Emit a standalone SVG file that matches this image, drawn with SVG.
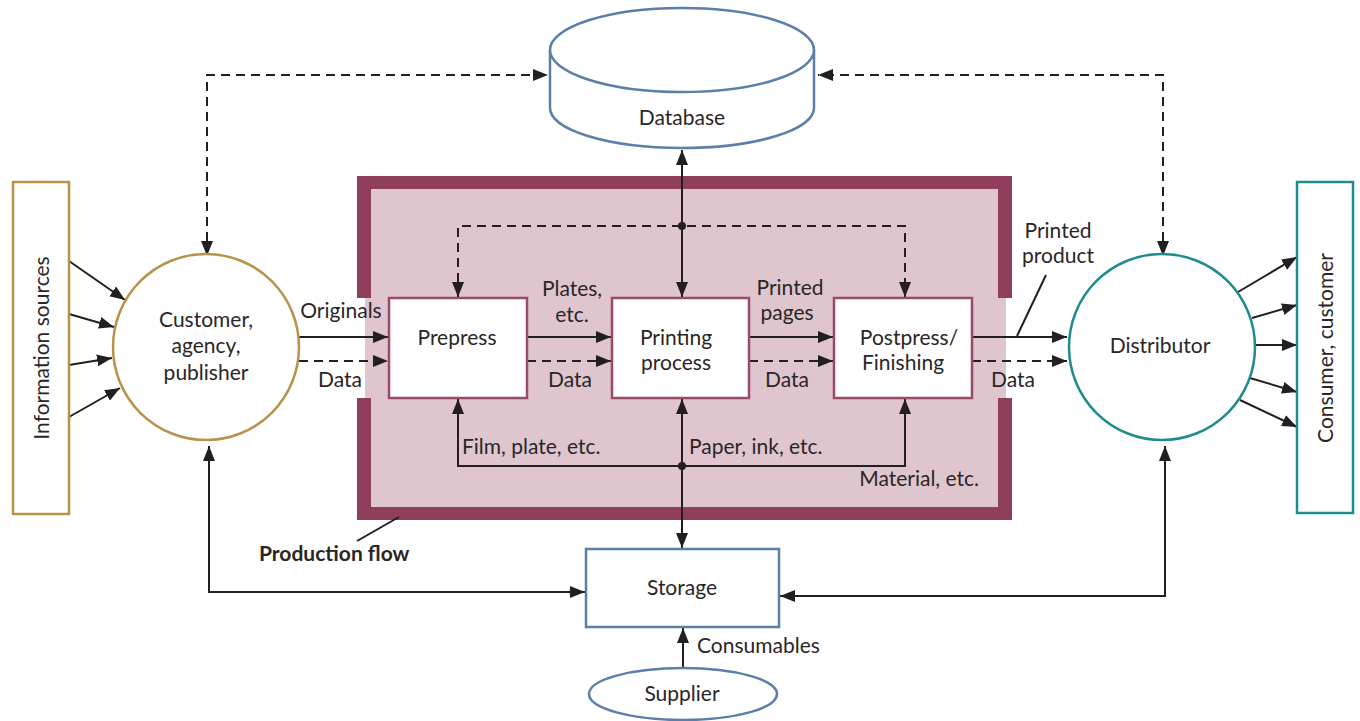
<svg xmlns="http://www.w3.org/2000/svg" width="1360" height="721" viewBox="0 0 1360 721">
<style>
text{font-family:Lato,"Noto Sans","Liberation Sans",sans-serif;font-size:21px;fill:#2a2627}
.c{text-anchor:middle}
.ln{fill:none;stroke:#231f20;stroke-width:2}
.ds{fill:none;stroke:#231f20;stroke-width:2;stroke-dasharray:9 6}
.pb{fill:#fff;stroke:#9b4a66;stroke-width:2.5}
</style>
<defs>
<marker id="a" markerUnits="userSpaceOnUse" markerWidth="16" markerHeight="12" refX="15" refY="6" orient="auto-start-reverse"><path d="M0,0 L15,6 L0,12 z" fill="#231f20"/></marker>
</defs>
<rect width="1360" height="721" fill="#fff"/>

<g id="production">
<rect x="357" y="176" width="655" height="344" fill="#8f3f5b"/>
<rect x="371" y="189" width="627" height="318" fill="#dfc5ce"/>
<rect x="355" y="298" width="10" height="100" fill="#fff"/>
<rect x="365" y="298" width="6" height="100" fill="#dfc5ce"/>
<rect x="998" y="298" width="8" height="100" fill="#dfc5ce"/>
<rect x="1006" y="298" width="8" height="100" fill="#fff"/>
</g>

<g id="connectors">
<path class="ds" d="M207,256 V75 H548" marker-start="url(#a)" marker-end="url(#a)"/>
<path class="ds" d="M1163,256 V75 H818" marker-start="url(#a)" marker-end="url(#a)"/>
<path class="ln" d="M682,150 V297" marker-start="url(#a)" marker-end="url(#a)"/>
<path class="ds" d="M458,297 V226 H905 V297" marker-start="url(#a)" marker-end="url(#a)"/>
<path class="ln" d="M458,399 V466 H905 V399" marker-start="url(#a)" marker-end="url(#a)"/>
<path class="ln" d="M682,399 V548" marker-start="url(#a)" marker-end="url(#a)"/>
<circle cx="682" cy="226" r="4" fill="#231f20"/>
<circle cx="682" cy="466" r="4" fill="#231f20"/>
<path class="ln" d="M299,337 H388" marker-end="url(#a)"/>
<path class="ds" d="M299,361 H388" marker-end="url(#a)"/>
<path class="ln" d="M527,337 H611" marker-end="url(#a)"/>
<path class="ds" d="M527,361 H611" marker-end="url(#a)"/>
<path class="ln" d="M749,337 H833" marker-end="url(#a)"/>
<path class="ds" d="M749,361 H833" marker-end="url(#a)"/>
<path class="ln" d="M972,337 H1067" marker-end="url(#a)"/>
<path class="ds" d="M972,361 H1067" marker-end="url(#a)"/>
<path class="ln" d="M1046,275 L1017,336"/>
<path class="ln" d="M69,261 L125,300" marker-end="url(#a)"/>
<path class="ln" d="M69,314 L114,327" marker-end="url(#a)"/>
<path class="ln" d="M69,365 L112,358" marker-end="url(#a)"/>
<path class="ln" d="M69,417 L120,388" marker-end="url(#a)"/>
<path class="ln" d="M1238,292 L1297,257" marker-end="url(#a)"/>
<path class="ln" d="M1252,318 L1297,305" marker-end="url(#a)"/>
<path class="ln" d="M1256,345 L1297,345" marker-end="url(#a)"/>
<path class="ln" d="M1250,378 L1297,392" marker-end="url(#a)"/>
<path class="ln" d="M1240,400 L1297,427" marker-end="url(#a)"/>
<path class="ln" d="M209,446 V592 H585" marker-start="url(#a)" marker-end="url(#a)"/>
<path class="ln" d="M1165,446 V596 H780" marker-start="url(#a)" marker-end="url(#a)"/>
<path class="ln" d="M683,667 V628" marker-end="url(#a)"/>
<path class="ln" d="M357,541 L399,517"/>
</g>

<g id="database">
<path d="M550,50 V108 A132,40 0 0 0 814,108 V50" fill="#fff" stroke="#5b7fa8" stroke-width="2.5"/>
<ellipse cx="682" cy="50" rx="132" ry="42" fill="#fff" stroke="#5b7fa8" stroke-width="2.5"/>
<text class="c" x="682" y="125">Database</text>
</g>

<g id="info-sources">
<rect x="13" y="182" width="56" height="332" fill="#fff" stroke="#b8924a" stroke-width="2.5"/>
<text class="c" transform="translate(49,348) rotate(-90)">Information sources</text>
</g>

<g id="customer">
<circle cx="206" cy="347" r="93" fill="#fff" stroke="#b8924a" stroke-width="2.5"/>
<text class="c" x="206" y="327">Customer,</text>
<text class="c" x="206" y="353">agency,</text>
<text class="c" x="206" y="380">publisher</text>
</g>

<g id="prepress">
<rect class="pb" x="389" y="298" width="138" height="100"/>
<text class="c" x="457" y="345">Prepress</text>
</g>

<g id="printing">
<rect class="pb" x="612" y="298" width="137" height="100"/>
<text class="c" x="676" y="345">Printing</text>
<text class="c" x="676" y="370">process</text>
</g>

<g id="postpress">
<rect class="pb" x="834" y="298" width="138" height="100"/>
<text class="c" x="909" y="345">Postpress/</text>
<text class="c" x="903" y="370">Finishing</text>
</g>

<g id="distributor">
<circle cx="1162" cy="347" r="93" fill="#fff" stroke="#1e8c8a" stroke-width="2.5"/>
<text class="c" x="1160" y="353">Distributor</text>
</g>

<g id="consumer">
<rect x="1297" y="182" width="56" height="331" fill="#fff" stroke="#1e8c8a" stroke-width="2.5"/>
<text class="c" transform="translate(1333,348) rotate(-90)">Consumer, customer</text>
</g>

<g id="storage">
<rect x="586" y="549" width="193" height="78" fill="#fff" stroke="#5b7fa8" stroke-width="2.5"/>
<text class="c" x="682" y="595">Storage</text>
</g>

<g id="supplier">
<ellipse cx="683" cy="694" rx="94" ry="26" fill="#fff" stroke="#5b7fa8" stroke-width="2.5"/>
<text class="c" x="682" y="701">Supplier</text>
</g>

<g id="labels">
<text class="c" x="341" y="318">Originals</text>
<text class="c" x="340" y="387">Data</text>
<text class="c" x="572" y="296">Plates,</text>
<text class="c" x="572" y="322">etc.</text>
<text class="c" x="570" y="387">Data</text>
<text class="c" x="790" y="295">Printed</text>
<text class="c" x="787" y="320">pages</text>
<text class="c" x="787" y="387">Data</text>
<text class="c" x="1013" y="387">Data</text>
<text class="c" x="1058" y="238">Printed</text>
<text class="c" x="1058" y="263">product</text>
<text x="462" y="454">Film, plate, etc.</text>
<text x="689" y="454">Paper, ink, etc.</text>
<text x="979" y="486" text-anchor="end">Material, etc.</text>
<text x="697" y="653">Consumables</text>
<text x="259" y="561" style="font-weight:bold">Production flow</text>
</g>
</svg>
